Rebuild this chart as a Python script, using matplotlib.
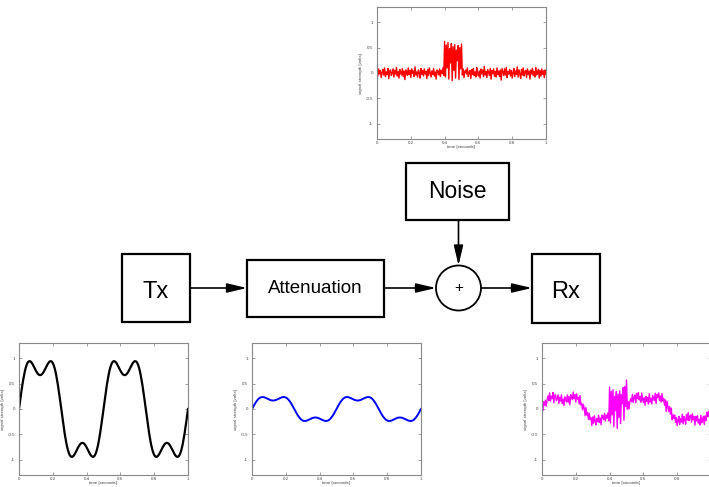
import numpy as np
import matplotlib.pyplot as plt
from matplotlib.patches import Rectangle, Circle

plt.rcParams['font.family'] = ['Liberation Sans', 'DejaVu Sans']

# time axis, 0 .. 1 s in 5 ms steps
time_s = np.linspace(0, 1, 201)

# transmitted signal (volts)
tx_volts = np.array([
    0.000, 0.125, 0.248, 0.366, 0.477, 0.579, 0.670, 0.749, 0.815, 0.867,
    0.905, 0.930, 0.941, 0.942, 0.931, 0.912, 0.886, 0.855, 0.822, 0.788,
    0.755, 0.726, 0.701, 0.682, 0.671, 0.667, 0.671, 0.682, 0.701, 0.726,
    0.755, 0.788, 0.822, 0.855, 0.886, 0.912, 0.931, 0.942, 0.941, 0.930,
    0.905, 0.867, 0.815, 0.749, 0.670, 0.579, 0.477, 0.366, 0.248, 0.125,
    0.000, -0.125, -0.248, -0.366, -0.477, -0.579, -0.670, -0.749, -0.815, -0.867,
    -0.905, -0.930, -0.941, -0.942, -0.931, -0.912, -0.886, -0.855, -0.822, -0.788,
    -0.755, -0.726, -0.701, -0.682, -0.671, -0.667, -0.671, -0.682, -0.701, -0.726,
    -0.755, -0.788, -0.822, -0.855, -0.886, -0.912, -0.931, -0.942, -0.941, -0.930,
    -0.905, -0.867, -0.815, -0.749, -0.670, -0.579, -0.477, -0.366, -0.248, -0.125,
    0.000, 0.125, 0.248, 0.366, 0.477, 0.579, 0.670, 0.749, 0.815, 0.867,
    0.905, 0.930, 0.941, 0.942, 0.931, 0.912, 0.886, 0.855, 0.822, 0.788,
    0.755, 0.726, 0.701, 0.682, 0.671, 0.667, 0.671, 0.682, 0.701, 0.726,
    0.755, 0.788, 0.822, 0.855, 0.886, 0.912, 0.931, 0.942, 0.941, 0.930,
    0.905, 0.867, 0.815, 0.749, 0.670, 0.579, 0.477, 0.366, 0.248, 0.125,
    0.000, -0.125, -0.248, -0.366, -0.477, -0.579, -0.670, -0.749, -0.815, -0.867,
    -0.905, -0.930, -0.941, -0.942, -0.931, -0.912, -0.886, -0.855, -0.822, -0.788,
    -0.755, -0.726, -0.701, -0.682, -0.671, -0.667, -0.671, -0.682, -0.701, -0.726,
    -0.755, -0.788, -0.822, -0.855, -0.886, -0.912, -0.931, -0.942, -0.941, -0.930,
    -0.905, -0.867, -0.815, -0.749, -0.670, -0.579, -0.477, -0.366, -0.248, -0.125,
    0.000,
])

# channel noise (volts); burst between 0.4 and 0.5 s
noise_volts = np.array([
    0.03, -0.06, 0.08, -0.02, 0.05, -0.09, 0.01, 0.07, -0.04, 0.10,
    -0.07, 0.02, -0.03, 0.09, -0.11, 0.04, 0.06, -0.05, 0.00, 0.08,
    -0.08, 0.05, -0.02, 0.11, -0.06, 0.03, -0.10, 0.07, 0.01, -0.04,
    0.09, -0.07, 0.04, -0.13, 0.06, 0.02, -0.05, 0.10, -0.03, 0.05,
    -0.09, 0.08, -0.01, 0.04, -0.07, 0.12, -0.04, 0.02, -0.08, 0.06,
    0.01, -0.10, 0.09, -0.03, 0.05, -0.06, 0.08, -0.02, 0.03, -0.11,
    0.07, -0.05, 0.10, 0.00, -0.08, 0.04, -0.03, 0.09, -0.06, 0.02,
    -0.12, 0.06, 0.03, -0.04, 0.08, -0.07, 0.05, -0.01, 0.10, -0.05,
    0.62, -0.08, 0.55, 0.10, 0.60, -0.12, 0.48, 0.20, 0.58, -0.15,
    0.52, 0.05, 0.56, -0.10, 0.45, 0.25, 0.54, -0.13, 0.50, 0.08,
    0.57,
    -0.04, 0.08, -0.09, 0.03, 0.06, -0.02, 0.10, -0.07, 0.01, 0.05,
    -0.11, 0.07, -0.03, 0.09, -0.05, 0.02, -0.08, 0.11, 0.00, -0.06,
    0.04, -0.10, 0.08, -0.02, 0.06, -0.07, 0.13, -0.04, 0.03, -0.09,
    0.07, 0.01, -0.05, 0.09, -0.12, 0.05, -0.01, 0.08, -0.06, 0.03,
    -0.08, 0.10, -0.03, 0.04, -0.07, 0.06, -0.14, 0.09, 0.02, -0.05,
    0.08, -0.04, 0.11, -0.09, 0.03, -0.02, 0.07, -0.06, 0.05, -0.10,
    0.01, 0.09, -0.07, 0.04, -0.03, 0.12, -0.08, 0.06, -0.01, -0.11,
    0.07, -0.04, 0.10, -0.06, 0.02, 0.05, -0.09, 0.08, -0.03, 0.04,
    -0.12, 0.06, -0.02, 0.09, -0.05, 0.03, -0.08, 0.11, -0.04, 0.01,
    0.07, -0.10, 0.05, -0.06, 0.08, -0.03, 0.04, -0.09, 0.06, -0.02,
])

channel_gain = 0.25
attenuated_volts = tx_volts * channel_gain
received_volts = attenuated_volts + noise_volts

x_ticks = [0, 0.2, 0.4, 0.6, 0.8, 1]
x_ticklabels = ["0", "0.2", "0.4", "0.6", "0.8", "1"]
y_ticks = [-1, -0.5, 0, 0.5, 1]
y_ticklabels = ["-1", "-0.5", "0", "0.5", "1"]

W, H = 709, 487
fig = plt.figure(figsize=(W / 100, H / 100), dpi=100)

# block diagram in pixel coordinates
dia = fig.add_axes([0, 0, 1, 1])
dia.set_xlim(0, W)
dia.set_ylim(H, 0)
dia.axis("off")

box_lw = 1.6
for (x0, y0, x1, y1), label, fs, dy in [
    ((122, 254, 190, 322), "Tx", 17, 4),
    ((247, 260, 384, 317), "Attenuation", 13.5, 0),
    ((406, 163, 509, 220), "Noise", 16.5, 0),
    ((532, 254, 600, 323), "Rx", 17, 4),
]:
    dia.add_patch(Rectangle((x0, y0), x1 - x0, y1 - y0, fill=False,
                            ec="black", lw=box_lw))
    dia.text((x0 + x1) / 2, (y0 + y1) / 2 + dy, label, ha="center",
             va="center", fontsize=fs)

cx, cy, r = 458.5, 288, 22.5
dia.add_patch(Circle((cx, cy), r, fill=False, ec="black", lw=1.3))
dia.text(cx, cy, "+", ha="center", va="center", fontsize=11)

arrow = dict(arrowstyle="-|>,head_length=1.2,head_width=0.28",
             color="black", lw=1.2, shrinkA=0, shrinkB=0, mutation_scale=10)
dia.annotate("", xy=(247, 288), xytext=(190, 288), arrowprops=arrow)
dia.annotate("", xy=(cx - r, 288), xytext=(384, 288), arrowprops=arrow)
dia.annotate("", xy=(cx, cy - r), xytext=(cx, 220), arrowprops=arrow)
dia.annotate("", xy=(532, 288), xytext=(cx + r, 288), arrowprops=arrow)


def signal_axes(left, top, series, color, lw):
    ax = fig.add_axes([left / W, 1 - (top + 132) / H, 169 / W, 132 / H])
    ax.plot(time_s, series, color=color, lw=lw)
    ax.set_xlim(0, 1)
    ax.set_ylim(-1.3, 1.3)
    ax.set_xticks(x_ticks)
    ax.set_xticklabels(x_ticklabels)
    ax.set_yticks(y_ticks)
    ax.set_yticklabels(y_ticklabels)
    ax.tick_params(direction="in", length=2, width=0.5, labelsize=3.2,
                   pad=3, top=True, right=True, colors="#777777",
                   labelcolor="#444444")
    ax.tick_params(axis="x", pad=1.5)
    for s in ax.spines.values():
        s.set_color("#888888")
        s.set_linewidth(0.8)
    ax.set_xlabel("time [seconds]", fontsize=3.2, labelpad=0,
                  color="#444444")
    ax.set_ylabel("signal strength [volts]", fontsize=3.2, labelpad=2,
                  color="#444444")
    return ax


signal_axes(377, 7, noise_volts, "red", 1.0)
signal_axes(19, 343, tx_volts, "black", 1.6)
signal_axes(252, 343, attenuated_volts, "blue", 1.4)
signal_axes(542, 343, received_volts, "magenta", 1.0)

fig.savefig("out.png", dpi=100)
